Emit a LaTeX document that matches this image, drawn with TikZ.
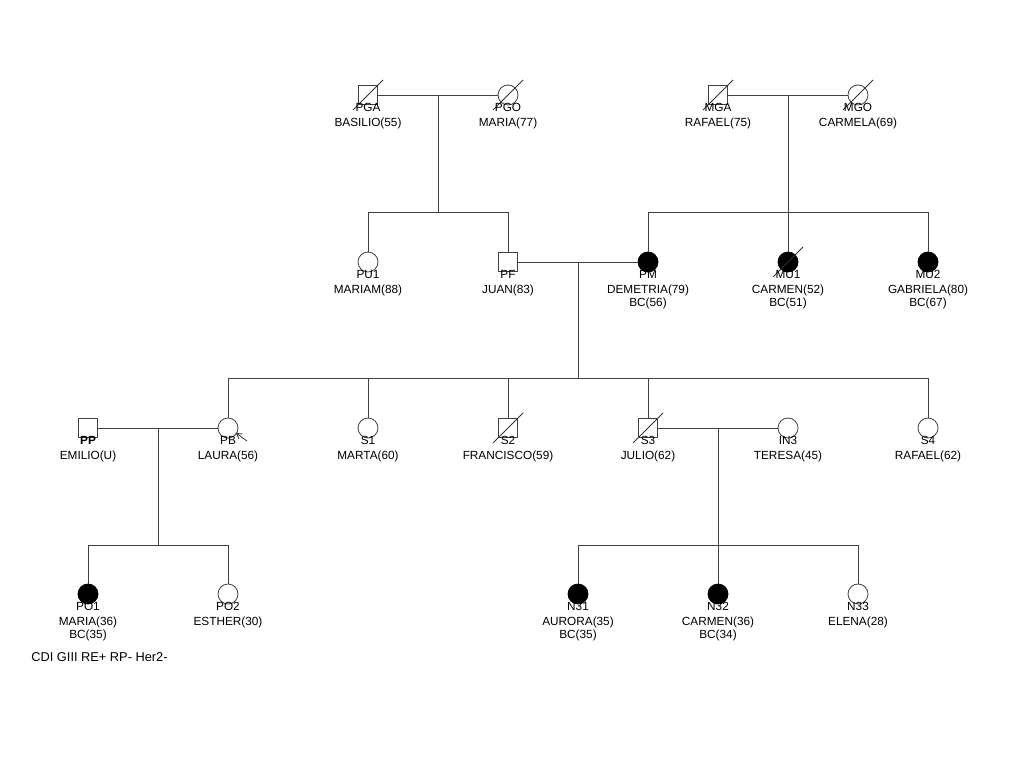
\documentclass[tikz,border=0pt]{standalone}
\usepackage{fontspec}
\setmainfont{Liberation Sans}
\usetikzlibrary{calc,arrows.meta}
\begin{document}
\begin{tikzpicture}[x=1pt,y=-1pt,
  line width=0.8pt,
  lc/.style={draw=black!75},
  male/.style={rectangle,draw=black!75,minimum size=19pt,inner sep=0pt,fill=white},
  female/.style={circle,draw=black!75,minimum size=20pt,inner sep=0pt,fill=white},
  aff/.style={fill=black,draw=black},
  lbl/.style={anchor=base,inner sep=0pt,font=\fontsize{11.8}{13}\selectfont},
  dec/.style={draw=black!80,line width=0.8pt},
  capt/.style={anchor=base west,inner sep=0pt,font=\fontsize{12.8}{14}\selectfont}]
\useasboundingbox (0,0) rectangle (1024,768);
% ---- generation I
\node[male]   (PGA) at (368,95) {};
\node[female] (PGO) at (508,95) {};
\node[male]   (MGA) at (718,95) {};
\node[female] (MGO) at (858,95) {};
% ---- generation II
\node[female]     (PU1) at (368,262) {};
\node[male]       (PF)  at (508,262) {};
\node[female,aff] (PM)  at (648,262) {};
\node[female,aff] (MU1) at (788,262) {};
\node[female,aff] (MU2) at (928,262) {};
% ---- generation III
\node[male]   (PP)  at (88,428) {};
\node[female] (PB)  at (228,428) {};
\node[female] (S1)  at (368,428) {};
\node[male]   (S2)  at (508,428) {};
\node[male]   (S3)  at (648,428) {};
\node[female] (IN3) at (788,428) {};
\node[female] (S4)  at (928,428) {};
% ---- generation IV
\node[female,aff] (PO1) at (88,594) {};
\node[female]     (PO2) at (228,594) {};
\node[female,aff] (N31) at (578,594) {};
\node[female,aff] (N32) at (718,594) {};
\node[female]     (N33) at (858,594) {};

% ---- couples and descent
\coordinate (c1) at ($(PGA)!0.5!(PGO)$);
\coordinate (c2) at ($(MGA)!0.5!(MGO)$);
\coordinate (c3) at ($(PF)!0.5!(PM)$);
\coordinate (c4) at ($(PP)!0.5!(PB)$);
\coordinate (c5) at ($(S3)!0.5!(IN3)$);
\coordinate (s1) at (0,212);
\coordinate (s3) at (0,378);
\coordinate (s4) at (0,545);

\draw[lc] (PGA) -- (PGO);
\draw[lc] (MGA) -- (MGO);
\draw[lc] (PF) -- (PM);
\draw[lc] (PP) -- (PB);
\draw[lc] (S3) -- (IN3);

\draw[lc] (c1) -- (c1 |- s1);
\draw[lc] (PU1 |- s1) -- (PF |- s1);
\draw[lc] (PU1 |- s1) -- (PU1.north);
\draw[lc] (PF |- s1) -- (PF.north);

\draw[lc] (c2) -- (MU1.north);
\draw[lc] (PM |- s1) -- (MU2 |- s1);
\draw[lc] (PM |- s1) -- (PM.north);
\draw[lc] (MU2 |- s1) -- (MU2.north);

\draw[lc] (c3) -- (c3 |- s3);
\draw[lc] (PB |- s3) -- (S4 |- s3);
\foreach \n in {PB,S1,S2,S3,S4} \draw[lc] (\n |- s3) -- (\n.north);

\draw[lc] (c4) -- (c4 |- s4);
\draw[lc] (PO1 |- s4) -- (PO2 |- s4);
\foreach \n in {PO1,PO2} \draw[lc] (\n |- s4) -- (\n.north);

\draw[lc] (c5) -- (c5 |- s4);
\draw[lc] (N31 |- s4) -- (N33 |- s4);
\foreach \n in {N31,N32,N33} \draw[lc] (\n |- s4) -- (\n.north);

% ---- deceased slashes
\foreach \n in {PGA,PGO,MGA,MGO,MU1,S2,S3}
  \draw[dec] ($(\n.center)+(-15,15)$) -- ($(\n.center)+(15,-15)$);

% ---- proband arrow
\coordinate (pa) at ($(PB.center)+(19,13)$);
\draw[dec,-{Straight Barb[length=5pt,width=6pt]}] (pa) -- ($(PB.center)+(8,5)$);

% ---- labels
\newcommand{\plab}[4]{%
  \node[lbl] at ($(#1)+(0,16)$) {#2};
  \node[lbl] at ($(#1)+(0,31)$) {#3};
  \node[lbl] at ($(#1)+(0,44)$) {#4};}
\plab{PGA}{PGA}{BASILIO(55)}{}
\plab{PGO}{PGO}{MARIA(77)}{}
\plab{MGA}{MGA}{RAFAEL(75)}{}
\plab{MGO}{MGO}{CARMELA(69)}{}
\plab{PU1}{PU1}{MARIAM(88)}{}
\plab{PF}{PF}{JUAN(83)}{}
\plab{PM}{PM}{DEMETRIA(79)}{BC(56)}
\plab{MU1}{MU1}{CARMEN(52)}{BC(51)}
\plab{MU2}{MU2}{GABRIELA(80)}{BC(67)}
\plab{PP}{\textbf{PP}}{EMILIO(U)}{}
\plab{PB}{PB}{LAURA(56)}{}
\plab{S1}{S1}{MARTA(60)}{}
\plab{S2}{S2}{FRANCISCO(59)}{}
\plab{S3}{S3}{JULIO(62)}{}
\plab{IN3}{IN3}{TERESA(45)}{}
\plab{S4}{S4}{RAFAEL(62)}{}
\plab{PO1}{PO1}{MARIA(36)}{BC(35)}
\plab{PO2}{PO2}{ESTHER(30)}{}
\plab{N31}{N31}{AURORA(35)}{BC(35)}
\plab{N32}{N32}{CARMEN(36)}{BC(34)}
\plab{N33}{N33}{ELENA(28)}{}
\node[capt] (cap) at (31,661) {CDI GIII RE+ RP- Her2-};
\end{tikzpicture}
\end{document}
